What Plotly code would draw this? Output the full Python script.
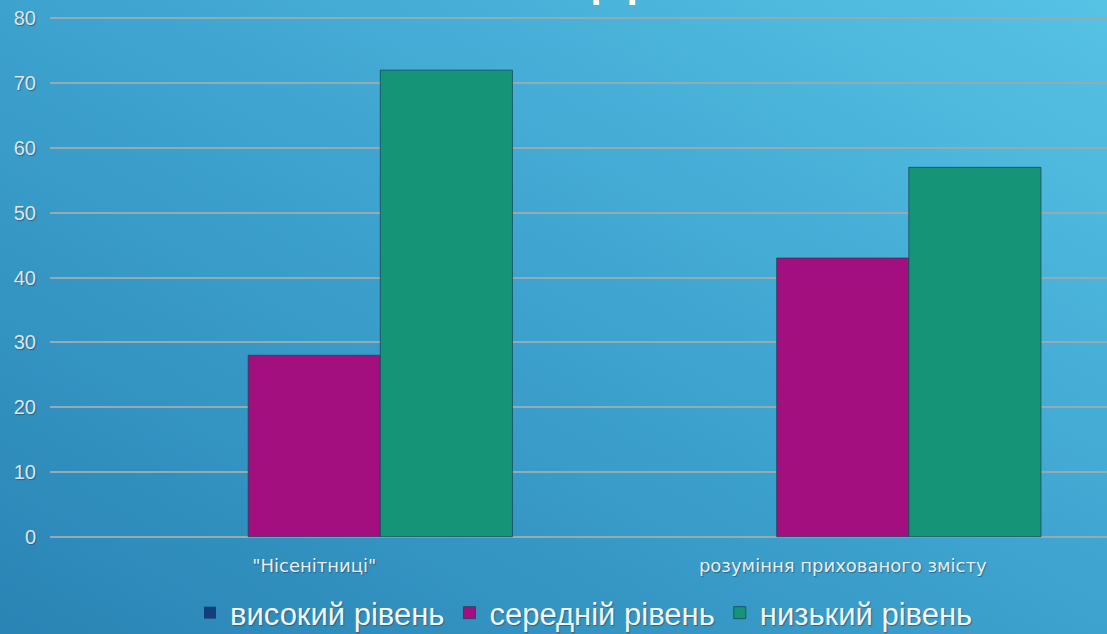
import plotly.graph_objects as go

categories = ['"Нісенітниці"', "розуміння прихованого змісту"]
series_names = ["високий рівень", "середній рівень", "низький рівень"]
high_vals = [0, 0]
mid_vals = [28, 43]
low_vals = [72, 57]
series_colors = ["#123E7C", "#A40F80", "#159478"]
y_ticks = [0, 10, 20, 30, 40, 50, 60, 70, 80]
title_text = "До"

W, H = 1107, 634
m_l, m_r, m_t, m_b = 50, 0, 17, 96
pw, ph = W - m_l - m_r, H - m_t - m_b

bg_svg = (
    "data:image/svg+xml;utf8,"
    "<svg xmlns='http://www.w3.org/2000/svg' width='1107' height='634' preserveAspectRatio='none'>"
    "<defs><linearGradient id='g' x1='0' y1='1' x2='1' y2='0'>"
    "<stop offset='0' stop-color='%232A84B5'/>"
    "<stop offset='0.5' stop-color='%233DA2CE'/>"
    "<stop offset='1' stop-color='%2356C2E4'/>"
    "</linearGradient></defs>"
    "<rect width='1107' height='634' fill='url(%23g)'/></svg>"
)

shadow = "1px 1px 1px rgba(40,70,90,0.6)"

fig = go.Figure()
for i, (name, vals, col) in enumerate(zip(series_names, [high_vals, mid_vals, low_vals], series_colors)):
    fig.add_trace(go.Bar(
        x=categories, y=vals, name=name,
        marker=dict(color=col, line=dict(color="rgba(20,70,90,0.75)", width=0 if i == 0 else 1)),
    ))

fig.update_layout(
    width=W, height=H,
    margin=dict(l=m_l, r=m_r, t=m_t, b=m_b, autoexpand=False),
    paper_bgcolor="rgba(0,0,0,0)",
    plot_bgcolor="rgba(0,0,0,0)",
    barmode="group",
    bargap=0.25,
    bargroupgap=0,
    font=dict(family="Liberation Sans, Arial, sans-serif", color="#E6EEF2"),
    images=[dict(source=bg_svg, xref="paper", yref="paper",
                 x=-m_l / pw, y=1 + m_t / ph,
                 sizex=W / pw, sizey=H / ph,
                 xanchor="left", yanchor="top", sizing="stretch", layer="below")],
    xaxis=dict(showgrid=False, zeroline=False, showline=False,
               tickfont=dict(family="DejaVu Sans, sans-serif", size=18, color="#E8EEF2", shadow=shadow),
               ticks="", ticklabelstandoff=15),
    yaxis=dict(range=[-0.2, 80.2], tickvals=y_ticks, showgrid=True,
               gridcolor="#96AAB2", gridwidth=2, zeroline=False, showline=False,
               tickfont=dict(size=20, color="#DCE6EA", shadow=shadow),
               ticks="", ticklabelstandoff=13),
    showlegend=True,
    legend=dict(orientation="h", xref="container", yref="container",
                x=584 / W, xanchor="center", y=1 - 586 / H, yanchor="top",
                font=dict(size=31, color="#F2F6F8", shadow=shadow), itemwidth=30,
                bgcolor="rgba(0,0,0,0)", traceorder="normal"),
    annotations=[dict(text=title_text, xref="paper", yref="paper",
                      x=(633 - m_l) / pw, y=1.0, yshift=9,
                      xanchor="center", yanchor="bottom", showarrow=False,
                      font=dict(size=64, color="white"))],
)

fig.write_html("out.html", config={"displayModeBar": False},
               post_script="document.body.style.margin='0';document.body.style.overflow='hidden';")
